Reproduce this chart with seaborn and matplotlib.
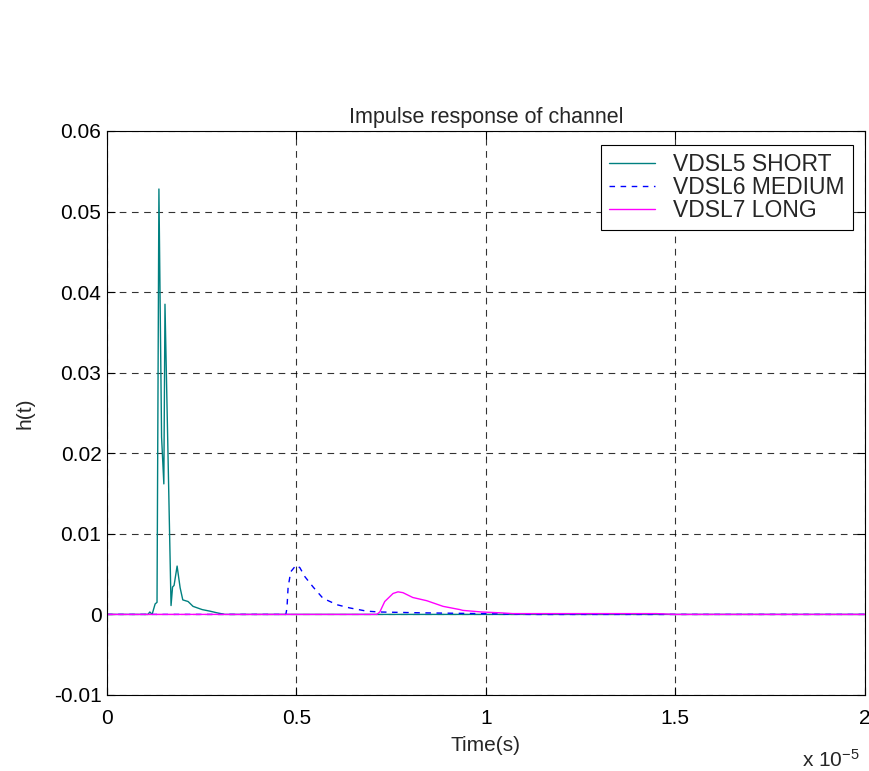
"""Impulse response of VDSL channels"""

import matplotlib
matplotlib.use("Agg")
import matplotlib.pyplot as plt
from matplotlib.ticker import FuncFormatter
import numpy as np
import pandas as pd
import seaborn as sns

# time in microseconds, h(t) values
short_t = [0, 1.08, 1.13, 1.19, 1.27, 1.32, 1.37, 1.44, 1.50, 1.53, 1.69, 1.73,
           1.77, 1.85, 1.93, 2.00, 2.14, 2.27, 2.51, 2.72, 2.90, 3.11, 20]
short_h = [0, 0, 0.0003, 0.0, 0.0013, 0.0015, 0.0528, 0.0220, 0.0162, 0.0385, 0.0011, 0.0034,
           0.0036, 0.0060, 0.0033, 0.0018, 0.0016, 0.0010, 0.0006, 0.0004, 0.0002, 0.0, 0]

medium_t = [0, 4.72, 4.75, 4.78, 4.85, 4.99, 5.09, 5.22, 5.44, 5.70, 6.07, 6.41,
            6.86, 7.20, 8.26, 9.84, 11.2, 20]
medium_h = [0, 0, 0.0008, 0.0034, 0.0053, 0.0061, 0.0058, 0.0047, 0.0034, 0.0020, 0.0012, 0.0008,
            0.0004, 0.0003, 0.0002, 0.0001, 0, 0]

long_t = [0, 7.12, 7.20, 7.33, 7.55, 7.68, 7.81, 8.07, 8.44, 8.87, 9.31, 9.39,
          9.89, 10.37, 10.71, 14.5, 15.0, 20]
long_h = [0, 0, 0.0003, 0.0016, 0.0026, 0.0028, 0.0027, 0.0021, 0.0017, 0.0010, 0.0006, 0.0005,
          0.0003, 0.0002, 0.0001, 0.0001, 0, 0]

names = ["VDSL5 SHORT", "VDSL6 MEDIUM", "VDSL7 LONG"]
colors = ["#008080", "#0000ff", "#ff00ff"]

frames = []
for name, t, h in zip(names, [short_t, medium_t, long_t], [short_h, medium_h, long_h]):
    frames.append(pd.DataFrame({"t": np.array(t) * 1e-6, "h": h, "series": name}))
df = pd.concat(frames, ignore_index=True)

sns.set_theme(style="ticks")
plt.rcParams["font.family"] = ["Liberation Sans", "DejaVu Sans"]
plt.rcParams["mathtext.default"] = "regular"

fig = plt.figure(figsize=(8.7, 7.71), dpi=100)
ax = fig.add_axes([0.123, 0.0986, 0.871, 0.7315])

sns.lineplot(
    data=df, x="t", y="h", hue="series", style="series",
    hue_order=names, style_order=names,
    palette=dict(zip(names, colors)),
    dashes={names[0]: "", names[1]: (4, 4), names[2]: ""},
    estimator=None, sort=False, linewidth=1.0, ax=ax,
)

ax.set_xlim(0, 2e-5)
ax.set_ylim(-0.01, 0.06)
ax.set_xticks(np.linspace(0, 2e-5, 5))
ax.set_yticks(np.round(np.arange(-0.01, 0.061, 0.01), 2))
ax.xaxis.set_major_formatter(FuncFormatter(lambda v, p: f"{v * 1e5:g}"))
ax.yaxis.set_major_formatter(FuncFormatter(lambda v, p: f"{v:g}"))
ax.tick_params(direction="in", top=True, right=True, length=5.5, width=0.8,
               labelsize=15, colors="black")
ax.tick_params(axis="x", pad=10)
ax.tick_params(axis="y", pad=4)
ax.grid(True, color="black", linestyle=(0, (6, 5)), linewidth=0.8, alpha=0.8)
for s in ax.spines.values():
    s.set_color("black")
    s.set_linewidth(0.8)

ax.set_xlabel("Time(s)", fontsize=15, labelpad=6)
ax.set_ylabel("h(t)", fontsize=15, labelpad=14)
ax.set_title("Impulse response of channel", fontsize=15.5, pad=6)
ax.annotate(r"x 10$^{-5}$", xy=(0.955, -0.115), xycoords="axes fraction",
            ha="center", va="center", fontsize=15)

leg = ax.legend(loc="upper right", bbox_to_anchor=(0.984, 0.975), borderaxespad=0,
                fontsize=16.5, frameon=True, fancybox=False, framealpha=1,
                edgecolor="black", handlelength=2.0, handletextpad=0.8,
                labelspacing=0.0, borderpad=0.35)
leg.get_frame().set_linewidth(0.8)

fig.savefig("out.png", dpi=100, facecolor="white")
plt.close(fig)
